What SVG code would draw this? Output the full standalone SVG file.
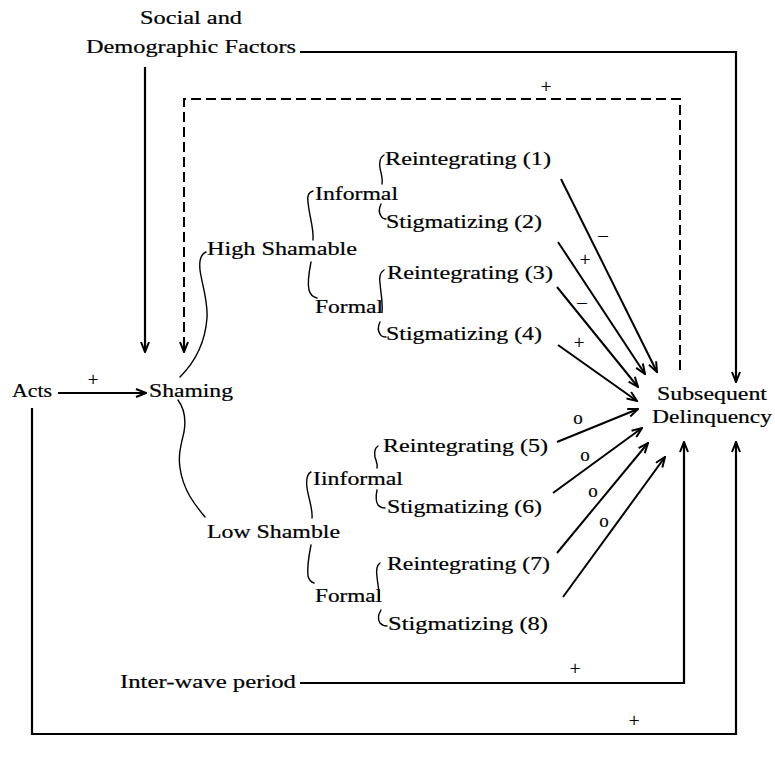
<svg xmlns="http://www.w3.org/2000/svg" width="775" height="758" viewBox="0 0 775 758">
  <style>
    text { font-family: "Liberation Serif", "Times New Roman", serif; font-size: 19px; fill: #000; stroke: #000; stroke-width: 0.2; }
    .sign { text-anchor: middle; }
    .line { fill: none; stroke: #000; stroke-width: 2.2; }
    .dash { fill: none; stroke: #000; stroke-width: 2; stroke-dasharray: 10 5; }
    .ray { fill: none; stroke: #000; stroke-width: 2; marker-end: url(#head); }
    .brace { fill: none; stroke: #000; stroke-width: 1.4; stroke-linecap: round; }
  </style>
  <defs>
    <marker id="head" viewBox="0 0 12 10" refX="11" refY="5" markerWidth="12" markerHeight="10" markerUnits="userSpaceOnUse" orient="auto">
      <path d="M1,1 L11,5 L1,9" fill="none" stroke="#000" stroke-width="2"/>
    </marker>
  </defs>
  <rect width="775" height="758" fill="#fff"/>

  <!-- nodes -->
  <g id="social-demographic">
    <text x="140" y="24" textLength="102" lengthAdjust="spacingAndGlyphs">Social and</text>
    <text x="86" y="53" textLength="210" lengthAdjust="spacingAndGlyphs">Demographic Factors</text>
  </g>
  <g id="acts"><text x="12" y="397" textLength="40" lengthAdjust="spacingAndGlyphs">Acts</text></g>
  <g id="shaming"><text x="149" y="397" textLength="84" lengthAdjust="spacingAndGlyphs">Shaming</text></g>
  <g id="high-shamable"><text x="207" y="255" textLength="150" lengthAdjust="spacingAndGlyphs">High Shamable</text></g>
  <g id="high-informal"><text x="315" y="200" textLength="83" lengthAdjust="spacingAndGlyphs">Informal</text></g>
  <g id="high-formal"><text x="315" y="313" textLength="68" lengthAdjust="spacingAndGlyphs">Formal</text></g>
  <g id="reintegrating-1"><text x="385" y="165" textLength="166" lengthAdjust="spacingAndGlyphs">Reintegrating (1)</text></g>
  <g id="stigmatizing-2"><text x="386" y="228" textLength="156" lengthAdjust="spacingAndGlyphs">Stigmatizing (2)</text></g>
  <g id="reintegrating-3"><text x="387" y="279" textLength="166" lengthAdjust="spacingAndGlyphs">Reintegrating (3)</text></g>
  <g id="stigmatizing-4"><text x="386" y="340" textLength="156" lengthAdjust="spacingAndGlyphs">Stigmatizing (4)</text></g>
  <g id="low-shamble"><text x="207" y="538" textLength="133" lengthAdjust="spacingAndGlyphs">Low Shamble</text></g>
  <g id="low-informal"><text x="313" y="485" textLength="90" lengthAdjust="spacingAndGlyphs">Iinformal</text></g>
  <g id="low-formal"><text x="315" y="602" textLength="67" lengthAdjust="spacingAndGlyphs">Formal</text></g>
  <g id="reintegrating-5"><text x="383" y="452" textLength="165" lengthAdjust="spacingAndGlyphs">Reintegrating (5)</text></g>
  <g id="stigmatizing-6"><text x="387" y="513" textLength="155" lengthAdjust="spacingAndGlyphs">Stigmatizing (6)</text></g>
  <g id="reintegrating-7"><text x="387" y="570" textLength="163" lengthAdjust="spacingAndGlyphs">Reintegrating (7)</text></g>
  <g id="stigmatizing-8"><text x="388" y="630" textLength="160" lengthAdjust="spacingAndGlyphs">Stigmatizing (8)</text></g>
  <g id="subsequent-delinquency">
    <text x="657" y="400" textLength="110" lengthAdjust="spacingAndGlyphs">Subsequent</text>
    <text x="652" y="423" textLength="120" lengthAdjust="spacingAndGlyphs">Delinquency</text>
  </g>
  <g id="inter-wave"><text x="120" y="688" textLength="176" lengthAdjust="spacingAndGlyphs">Inter-wave period</text></g>

  <!-- branching braces -->
  <g id="branches">
    <path class="brace" d="M206,252 C201,254 199,260 200,270 C202,285 208,300 207,318 C205,345 192,365 180,377"/>
    <path class="brace" d="M178,400 C184,408 186,420 184,432 C181,445 178,455 180,468 C183,490 195,505 205,517"/>
    <path class="brace" d="M313,191 C309,192 307,196 308,202 C309,215 314,228 313,240"/>
    <path class="brace" d="M311,262 C309,272 307,282 309,290 C310,294 313,297 317,298"/>
    <path class="brace" d="M384,155 C381,157 379,162 380,168 C381,174 383,178 382,184"/>
    <path class="brace" d="M381,204 C379,208 379,213 381,216 C382,218 384,219 386,219"/>
    <path class="brace" d="M384,270 C381,272 379,277 380,283 C381,295 383,303 382,312"/>
    <path class="brace" d="M380,322 C378,326 378,331 380,334 C381,336 383,337 386,337"/>
    <path class="brace" d="M311,472 C307,474 306,480 307,488 C309,500 313,510 312,518"/>
    <path class="brace" d="M311,545 C309,555 307,568 308,576 C309,580 311,582 314,583"/>
    <path class="brace" d="M378,446 C375,448 374,452 375,457 C376,461 378,464 377,468"/>
    <path class="brace" d="M377,490 C376,495 376,502 378,505 C380,507 382,508 385,508"/>
    <path class="brace" d="M380,563 C377,565 376,570 377,577 C378,587 380,594 379,600"/>
    <path class="brace" d="M381,610 C378,615 378,620 380,623 C382,625 384,626 387,626"/>
  </g>

  <!-- connectors -->
  <g id="connectors">
    <path class="line" d="M145,67 V352" marker-end="url(#head)"/>
    <path class="line" d="M300,52 H736 V382" marker-end="url(#head)"/>
    <path class="dash" d="M680,370 V99 H184 V350"/>
    <path class="line" d="M184,340 V352" marker-end="url(#head)"/>
    <path class="line" d="M58,393 H146" marker-end="url(#head)"/>
    <path class="line" d="M32,408 V734 H736 V442" marker-end="url(#head)"/>
    <path class="line" d="M300,683 H684 V442" marker-end="url(#head)"/>

    <path class="ray" d="M561,179 L657,372"/>
    <path class="ray" d="M558,242 L645,374"/>
    <path class="ray" d="M557,287 L638,387"/>
    <path class="ray" d="M558,345 L637,401"/>
    <path class="ray" d="M557,442 L638,409"/>
    <path class="ray" d="M553,493 L642,428"/>
    <path class="ray" d="M557,553 L648,443"/>
    <path class="ray" d="M563,597 L665,457"/>

    <text class="sign" x="546" y="93">+</text>
    <text class="sign" x="93" y="386">+</text>
    <text class="sign" x="603" y="241">–</text>
    <text class="sign" x="585" y="266">+</text>
    <text class="sign" x="582" y="308">–</text>
    <text class="sign" x="579" y="349">+</text>
    <text class="sign" x="578" y="424">o</text>
    <text class="sign" x="585" y="461">o</text>
    <text class="sign" x="593" y="497">o</text>
    <text class="sign" x="604" y="527">o</text>
    <text class="sign" x="575" y="675">+</text>
    <text class="sign" x="634" y="727">+</text>
  </g>
</svg>
